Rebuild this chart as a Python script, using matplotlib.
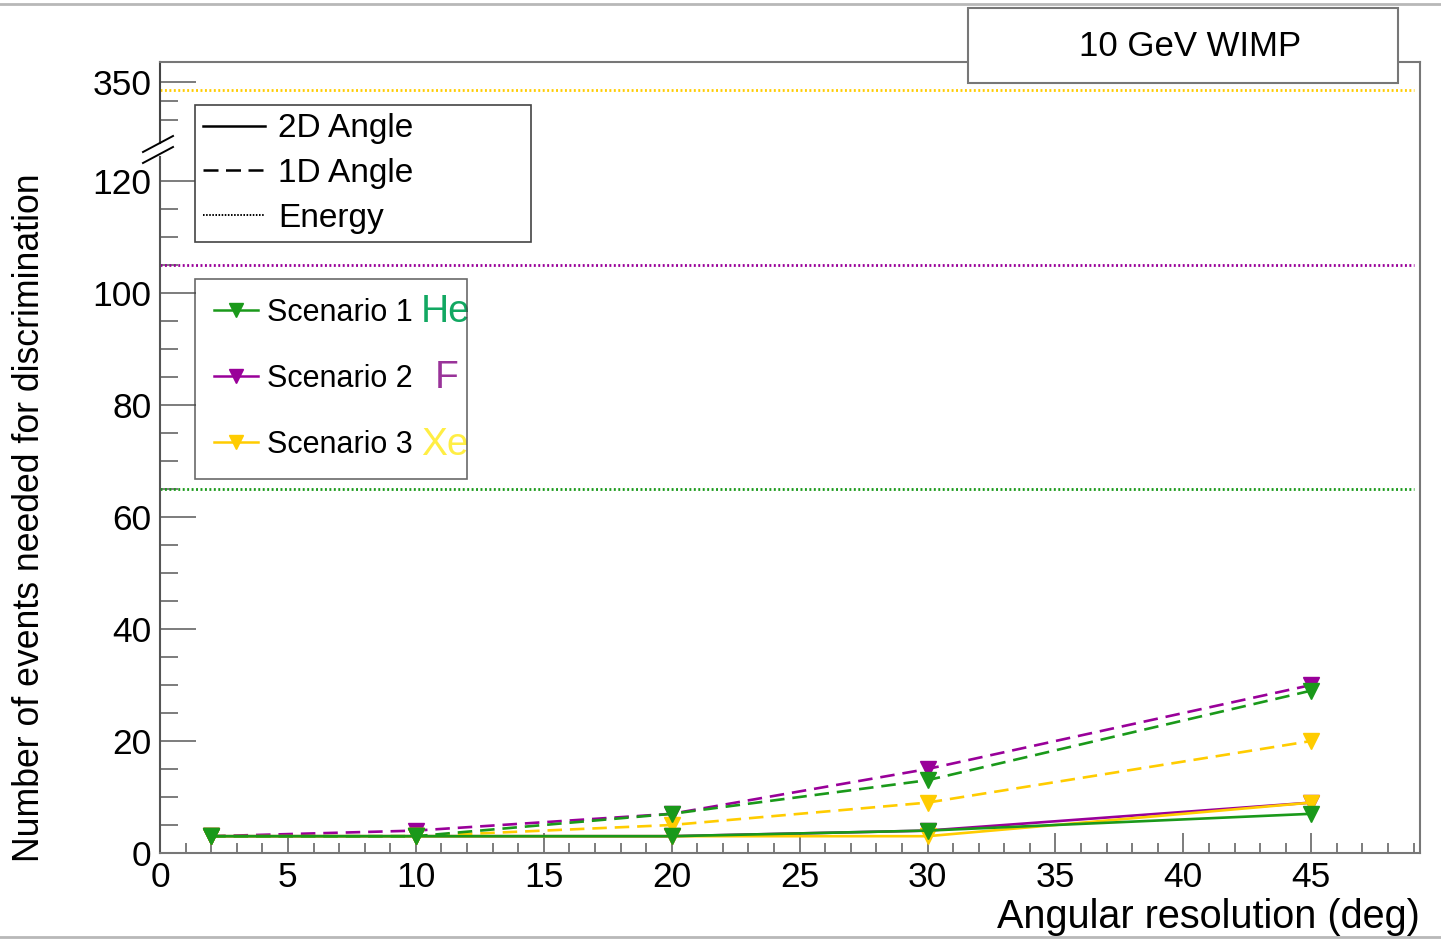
import numpy as np
import matplotlib.pyplot as plt
from matplotlib.lines import Line2D
from matplotlib.patches import Rectangle

plt.rcParams['font.family'] = ['Liberation Sans', 'DejaVu Sans']

# angular resolution (deg) and number of events needed
angres = [2, 10, 20, 30, 45]
he_2d = [3, 3, 3, 4, 7]
f_2d = [3, 3, 3, 4, 9]
xe_2d = [3, 3, 3, 3, 9]
he_1d = [3, 3, 7, 13, 29]
f_1d = [3, 4, 7, 15, 30]
xe_1d = [3, 3, 5, 9, 20]
# energy-only discrimination
energy_he = 65
energy_f = 105
energy_xe = 346

green = '#1a991a'
purple = '#990099'
yellow = '#ffcc00'

# broken y axis: 125..315 is squeezed into a tiny gap
brk_in = [-100, 125, 315, 2000]
brk_out = [-100, 125, 125.8, 125.8 + (2000 - 315) * 0.339]

def fwd(y):
    return np.interp(y, brk_in, brk_out)

def inv(y):
    return np.interp(y, brk_out, brk_in)

W, H = 1441, 939
fig = plt.figure(figsize=(W / 100, H / 100), dpi=100)
ax = fig.add_axes([160 / W, 1 - 853 / H, 1260 / W, 791 / H])
ax.set_yscale('function', functions=(fwd, inv))
ax.set_xlim(0, 49.25)
ax.set_ylim(0, 360.6)

# energy lines
for e, c in [(energy_he, green), (energy_f, purple), (energy_xe, yellow)]:
    ax.hlines(e, 0, 49, colors=c, linestyles=(0, (0.7, 0.9)), lw=2.0)

dash = (0, (5.5, 3))
for c, d1, d2 in [(purple, f_1d, f_2d), (yellow, xe_1d, xe_2d), (green, he_1d, he_2d)]:
    ax.plot(angres, d1, color=c, ls=dash, lw=1.9, marker='v', ms=11, mec=c)
    ax.plot(angres, d2, color=c, ls='-', lw=1.9, marker='v', ms=11, mec=c)

# frame
for s in ['top', 'right', 'bottom']:
    ax.spines[s].set_color('#777777')
    ax.spines[s].set_linewidth(1.5)
ax.spines['left'].set_visible(False)
ytr = ax.get_yaxis_transform()
ax.plot([0, 0], [0, 124.3], color='#555555', lw=1.5, transform=ytr, clip_on=False)
ax.plot([0, 0], [318, 360.6], color='#444444', lw=1.5, transform=ytr, clip_on=False)
for y0, y1 in [(152, 136), (163, 147)]:
    fig.add_artist(Line2D([143 / W, 173 / W], [1 - y0 / H, 1 - y1 / H],
                          color='black', lw=1.4))

# ticks
ax.set_xticks(np.arange(0, 50, 5))
ax.set_xticks(np.arange(0, 50, 1), minor=True)
ax.set_yticks([0, 20, 40, 60, 80, 100, 120, 350])
ax.set_yticklabels(['0', '20', '40', '60', '80', '100', '120', '350'])
ax.set_yticks([v for v in range(5, 120, 5) if v % 20] + [330, 340], minor=True)
ax.tick_params(top=False, right=False, which='both', direction='in',
               color='#666666', width=1.2, labelsize=25.5)
ax.tick_params(axis='y', which='major', length=26, pad=6)
ax.tick_params(axis='y', which='minor', length=13)
ax.tick_params(axis='x', which='major', length=14.4, pad=6)
ax.tick_params(axis='x', which='minor', length=7.2)

fig.text(30 / W, 1 - 518 / H, 'Number of events needed for discrimination',
         rotation=90, ha='center', va='center', fontsize=25.7)
fig.text(1420 / W, 1 - 928 / H, 'Angular resolution (deg)',
         ha='right', va='baseline', fontsize=28.5)

# legends
h1 = [Line2D([], [], color='black', lw=1.8, ls='-'),
      Line2D([], [], color='black', lw=1.8, ls=(0, (6, 3))),
      Line2D([], [], color='black', lw=1.4, ls=(0, (0.8, 0.8)))]
leg1 = ax.legend(h1, ['2D Angle', '1D Angle', 'Energy'], loc='upper left',
                 bbox_to_anchor=(195 / W, 1 - 241 / H, 336 / W, 136 / H),
                 bbox_transform=fig.transFigure, mode='expand', borderaxespad=0,
                 fontsize=24, handlelength=1.85, handletextpad=0.4,
                 labelspacing=0.41, borderpad=0.25, fancybox=False,
                 framealpha=1, edgecolor='#444444')
leg1.get_frame().set_linewidth(1.2)
ax.add_artist(leg1)

h2 = [Line2D([], [], color=c, lw=1.8, marker='v', ms=10, mec=c)
      for c in (green, purple, yellow)]
leg2 = ax.legend(h2, ['Scenario 1', 'Scenario 2', 'Scenario 3'], loc='upper left',
                 bbox_to_anchor=(195 / W, 1 - 479 / H, 272 / W, 200 / H),
                 bbox_transform=fig.transFigure, mode='expand', borderaxespad=0,
                 fontsize=22, handlelength=1.45, handletextpad=0.3, numpoints=1,
                 labelspacing=1.18, borderpad=0.62, fancybox=False,
                 edgecolor='#444444')
leg2.get_frame().set_linewidth(1.2)
leg2.get_frame().set_facecolor('none')

# target names next to the scenario entries
for txt, x, y, c in [('He', 421, 322, '#12a862'), ('F', 435, 388, '#993399'),
                     ('Xe', 421, 455, '#ffee44')]:
    ax.text(x / W, 1 - y / H, txt, color=c, fontsize=28, ha='left', va='baseline',
            transform=fig.transFigure, zorder=4, clip_on=False)

# title box
fig.add_artist(Rectangle((968 / W, 1 - 83 / H), 430 / W, 75 / H,
                         transform=fig.transFigure, fc='white', ec='#777777', lw=1.5))
fig.text(1190 / W, 1 - 56 / H, '10 GeV WIMP', ha='center', va='baseline', fontsize=25)

# canvas border lines
fig.add_artist(Line2D([0, 1], [1 - 4 / H] * 2, color='#b8b8b8', lw=2))
fig.add_artist(Line2D([0, 1], [1 - 937 / H] * 2, color='#b8b8b8', lw=2))

fig.savefig('out.png', dpi=100)
